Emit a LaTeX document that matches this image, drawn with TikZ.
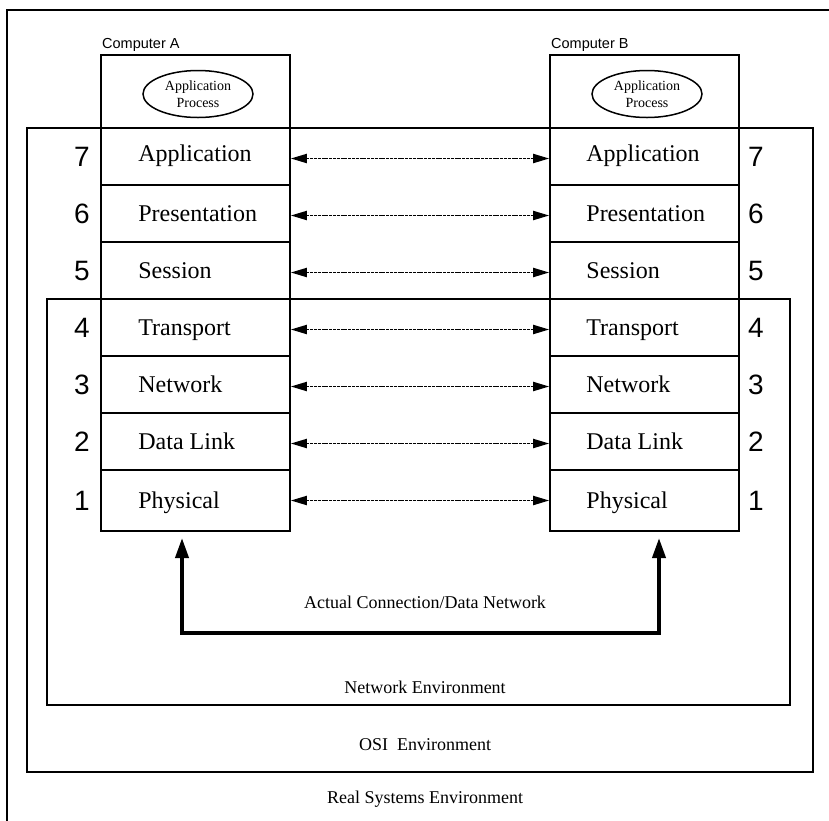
\documentclass[tikz,border=0pt]{standalone}
\usepackage{fontspec}
\setmainfont{Liberation Serif}
\setsansfont{Liberation Sans}
\usetikzlibrary{arrows.meta,shapes.geometric}
\begin{document}
\begin{tikzpicture}[x=1pt,y=-1pt,
  frame/.style={draw,line width=1.6pt},
  layerbox/.style={draw,line width=1.6pt,minimum width=189pt,minimum height=57pt,inner sep=0pt},
  lastbox/.style={layerbox,minimum height=61pt},
  topbox/.style={draw,line width=1.6pt,minimum width=189pt,minimum height=73pt,inner sep=0pt},
  layertext/.style={anchor=base west,inner sep=0pt,font=\fontsize{24}{28}\selectfont},
  num/.style={inner sep=0pt,font=\sffamily\fontsize{28}{28}\selectfont},
  comptext/.style={anchor=base west,inner sep=0pt,font=\sffamily\fontsize{14.5}{16}\selectfont},
  proc/.style={draw,ellipse,line width=1.5pt,minimum width=110pt,minimum height=47pt,inner sep=0pt,align=center,font=\fontsize{14}{17}\selectfont},
  envtext/.style={inner sep=0pt,font=\fontsize{18}{20}\selectfont},
  peer/.style={line width=1.9pt,dash pattern=on 3pt off 0.8pt,{Triangle[length=16pt,width=9pt]}-{Triangle[length=16pt,width=9pt]}},
  actual/.style={line width=3.8pt,{Triangle[length=20pt,width=13pt]}-{Triangle[length=20pt,width=13pt]}}
]
\useasboundingbox (0,0) rectangle (829,820);

% environments
\draw[frame] (7,10) rectangle (850,840);
\draw[frame] (27,128) rectangle (813,772);
\draw[frame] (47,299) rectangle (790,705);

% computer top boxes
\node[topbox] (ca) at (195.5,91.5) {};
\node[topbox] (cb) at (644.5,91.5) {};
\node[comptext] (cat) at (102,48) {Computer A};
\node[comptext] (cbt) at (551,48) {Computer B};
\node[proc] (pa) at (198,94) {Application\\Process};
\node[proc] (pb) at (647,94) {Application\\Process};

% layer boxes
\foreach \n/\y in {7/156.5,6/213.5,5/270.5,4/327.5,3/384.5,2/441.5}{
  \node[layerbox] (a\n) at (195.5,\y) {};
  \node[layerbox] (b\n) at (644.5,\y) {};
  \node[num] (na\n) at (82,\y) {\n};
  \node[num] (nb\n) at (756,\y) {\n};
}
\node[lastbox] (a1) at (195.5,500.5) {};
\node[lastbox] (b1) at (644.5,500.5) {};
\node[num] (na1) at (82,500.5) {1};
\node[num] (nb1) at (756,500.5) {1};

% layer names
\foreach \n/\t/\s in {7/Application/-5,6/Presentation/-8,5/Session/-8,4/Transport/-8,3/Network/-8,2/Data Link/-8,1/Physical/-8}{
  \node[layertext] (ta\n) at ([xshift=38pt,yshift=\s pt]a\n.west) {\t};
  \node[layertext] (tb\n) at ([xshift=37pt,yshift=\s pt]b\n.west) {\t};
}

% peer arrows
\foreach \n in {7,6,5,4,3,2}{
  \draw[peer] ([yshift=-2pt]a\n.east) -- ([yshift=-2pt]b\n.west);
}
\draw[peer] (a1.east) -- (b1.west);

% actual connection
\coordinate (t1) at (182,538);
\coordinate (c1) at (182,633);
\coordinate (c2) at (659,633);
\coordinate (t2) at (659,538);
\draw[actual] (t1) -- (c1) -- (c2) -- (t2);

\node[envtext] (actualt) at (425,602) {Actual Connection/Data Network};
\node[envtext] (nett) at (425,687) {Network Environment};
\node[envtext] (osit) at (425,745) {OSI\ \ Environment};
\node[envtext] (realt) at (425,799) {Real Systems Environment};
\end{tikzpicture}
\end{document}
